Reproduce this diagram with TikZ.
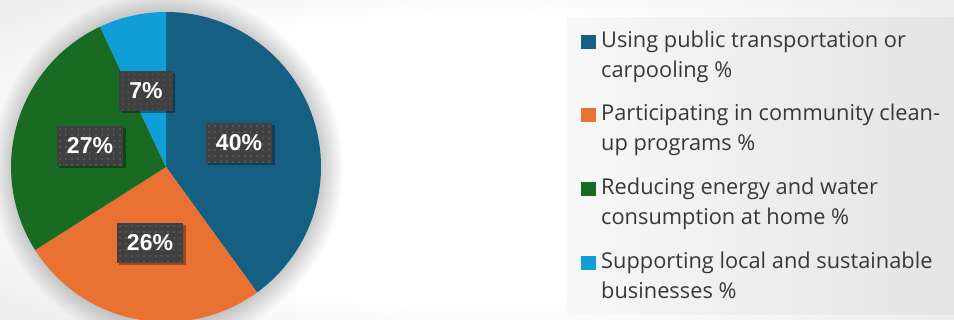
\documentclass[tikz,border=0pt]{standalone}
\usepackage{fontspec}
\setmainfont{Open Sans}
\newfontfamily\lblfont{Liberation Sans}
\usetikzlibrary{shadows}
\definecolor{cBlue}{HTML}{156082}
\definecolor{cOrange}{HTML}{E97132}
\definecolor{cGreen}{HTML}{196B24}
\definecolor{cLight}{HTML}{0F9ED5}
\definecolor{lblbg}{HTML}{404040}
\definecolor{dotc}{HTML}{545454}
\definecolor{txt}{HTML}{383838}
\definecolor{bggrey}{HTML}{D6D6D6}
\definecolor{legL}{HTML}{F8F8F8}
\definecolor{legR}{HTML}{E4E4E4}
\pgfdeclareradialshading{bgshade}{\pgfpoint{0bp}{0bp}}{color(0bp)=(white); color(22bp)=(white); color(50bp)=(bggrey); color(100bp)=(bggrey)}
\tikzset{
  lbl/.style={fill=lblbg, text=white, inner xsep=10pt, inner ysep=0pt,
    minimum height=40pt, font=\lblfont\bfseries\fontsize{23}{23}\selectfont,
    drop shadow={shadow xshift=2.5pt, shadow yshift=-2.5pt, opacity=0.35, fill=black},
    path picture={
      \foreach \i in {0,...,12}{\foreach \j in {0,...,7}{
        \fill[dotc] ([xshift=\i*6pt+2.5pt, yshift=-\j*6pt-2.5pt]path picture bounding box.north west) rectangle ++(1.5pt,-1.5pt);
      }}
    }},
  legtxt/.style={anchor=base west, align=left, text=txt, inner sep=0pt,
    font=\fontsize{21.8}{30}\selectfont},
  legsq/.style={minimum size=14.5pt, inner sep=0pt, anchor=south west}
}
\begin{document}
\begin{tikzpicture}[x=1pt,y=-1pt]
\useasboundingbox (0,0) rectangle (954,320);
\path[shading=bgshade] (0,0) rectangle (954,320);
% legend panel
\shade[left color=legL, right color=legR] (567,18) rectangle (954,315);
% pie halo
\coordinate (c) at (166,167);
\foreach \k in {1,...,10}{
  \fill[black, opacity=0.018] ([xshift=1pt,yshift=-1pt]c) circle[radius=154+\k*2.2];
}
% slices (angles in the flipped frame: clockwise on screen)
\fill[cBlue]   (c) -- ++(-90:155) arc[start angle=-90, end angle=54, radius=155] -- cycle;
\fill[cOrange] (c) -- ++(54:155) arc[start angle=54, end angle=147.6, radius=155] -- cycle;
\fill[cGreen]  (c) -- ++(147.6:155) arc[start angle=147.6, end angle=244.8, radius=155] -- cycle;
\fill[cLight]  (c) -- ++(244.8:155) arc[start angle=244.8, end angle=270, radius=155] -- cycle;
% labels
\node[lbl] (l40) at (239,143) {40\%};
\node[lbl] (l26) at (150,243) {26\%};
\node[lbl] (l27) at (90,146) {27\%};
\node[lbl] (l7)  at (146,91) {7\%};
% legend
\node[legsq, fill=cBlue]   (s1) at (581,49.5) {};
\node[legsq, fill=cOrange] (s2) at (581,122.5) {};
\node[legsq, fill=cGreen]  (s3) at (581,196.5) {};
\node[legsq, fill=cLight]  (s4) at (581,270.5) {};
\node[legtxt] (t1) at (601,78)  {Using public transportation or\\carpooling \%};
\node[legtxt] (t2) at (601,151) {Participating in community clean-\\up programs \%};
\node[legtxt] (t3) at (601,225) {Reducing energy and water\\consumption at home \%};
\node[legtxt] (t4) at (601,299) {Supporting local and sustainable\\businesses \%};
\end{tikzpicture}
\end{document}
